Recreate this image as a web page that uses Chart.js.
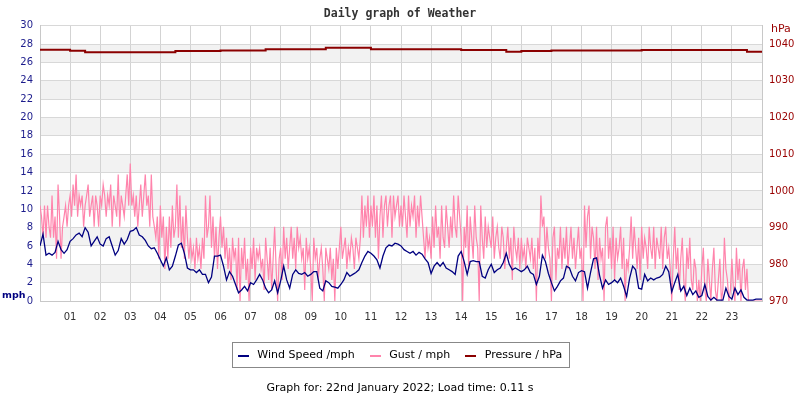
<!DOCTYPE html>
<html><head><meta charset="utf-8">
<script src="https://cdn.jsdelivr.net/npm/chart.js@4.4.1/dist/chart.umd.min.js"></script>
<style>html,body{margin:0;padding:0;background:#fff}</style>
</head><body>
<canvas id="c" width="800" height="400"></canvas>
<script>
const chartTitle = 'Daily graph of Weather';
const footerText = 'Graph for: 22nd January 2022; Load time: 0.11 s';
const leftUnit = 'mph';
const rightUnit = 'hPa';
const seriesNames = ['Wind Speed /mph', 'Gust / mph', 'Pressure / hPa'];
const hourLabels = ['01','02','03','04','05','06','07','08','09','10','11','12','13','14','15','16','17','18','19','20','21','22','23'];
const mphTicks = [0,2,4,6,8,10,12,14,16,18,20,22,24,26,28,30];
const hpaTicks = [970,980,990,1000,1010,1020,1030,1040];
const WIND_STEP_H = 0.1;      // wind speed every 6 minutes
const GUST_STEP_H = 0.05;     // gust every 3 minutes
const PRESSURE_STEP_H = 0.5;  // pressure every 30 minutes

// wind speed (mph), one row per hour 00..23, plus final value at 24:00
const windSpeed = [
 6.0,7.3,5.0,5.2,5.0,5.3,6.5,5.6,5.2,5.6,
 6.5,6.8,7.2,7.4,7.0,8.0,7.5,6.0,6.5,7.0,
 6.2,6.0,6.8,7.0,6.0,5.0,5.5,6.8,6.2,6.7,
 7.6,7.7,8.0,7.2,7.0,6.6,6.0,5.7,5.8,5.2,
 4.5,3.8,4.7,3.4,3.8,4.9,6.1,6.3,5.2,3.6,
 3.4,3.4,3.1,3.4,2.9,2.9,2.0,2.6,4.9,4.9,
 5.0,3.8,2.3,3.2,2.7,1.8,0.9,1.2,1.6,1.1,
 2.0,1.8,2.3,2.9,2.3,1.4,0.9,1.2,2.2,0.9,
 2.2,3.8,2.3,1.4,2.9,3.4,3.0,2.9,3.1,2.7,
 2.9,3.2,3.2,1.4,1.1,2.2,2.0,1.6,1.5,1.4,
 1.8,2.3,3.1,2.7,2.9,3.1,3.4,4.2,4.9,5.4,
 5.2,4.9,4.5,3.6,4.9,5.8,6.1,6.0,6.3,6.2,
 6.0,5.6,5.4,5.2,5.4,5.0,5.3,5.1,4.6,4.2,
 3.0,3.8,4.2,3.8,4.2,3.6,3.4,3.2,2.9,4.9,
 5.4,4.3,2.9,4.3,4.4,4.3,4.3,2.7,2.5,3.4,
 4.0,3.1,3.4,3.6,4.2,5.2,4.0,3.4,3.6,3.4,
 3.2,3.4,3.8,3.1,2.9,1.8,2.7,5.0,4.3,3.0,
 2.0,1.1,1.6,2.2,2.5,3.8,3.6,2.7,2.2,3.1,
 3.3,3.2,1.4,3.1,4.6,4.7,2.8,1.4,2.3,1.8,
 2.0,2.3,2.0,2.5,1.6,0.5,2.5,3.8,3.4,1.4,
 1.3,2.9,2.2,2.5,2.3,2.5,2.6,2.9,3.8,3.2,
 1.0,2.0,2.9,1.1,1.6,0.6,1.4,0.7,1.1,0.4,
 0.6,1.8,0.5,0.1,0.4,0.1,0.1,0.1,1.4,0.5,
 0.2,1.4,0.7,1.2,0.4,0.1,0.1,0.1,0.2,0.2,
 0.2
];

// gust (mph), one row per hour 00..23 (20 readings each), plus 24:00
const gust = [
 10.4,9.2,6.9,10.4,6.9,10.4,8.1,6.9,11.5,6.9,9.2,4.6,12.7,9.2,4.6,8.1,9.2,10.4,8.1,10.4,
 11.5,9.2,12.7,10.4,13.8,9.2,11.5,10.4,11.5,8.1,10.4,11.5,12.7,9.2,10.4,11.5,8.1,11.5,10.4,8.1,
 11.5,10.4,12.7,11.5,9.2,11.5,10.4,12.7,8.1,11.5,10.4,9.2,13.8,8.1,11.5,10.4,9.2,11.5,13.8,10.4,
 15.0,10.4,11.5,9.2,11.5,8.1,10.4,12.7,9.2,11.5,13.8,10.4,11.5,8.1,13.8,9.2,8.1,6.9,9.2,4.6,
 10.4,6.9,9.2,3.5,8.1,4.6,9.2,5.8,10.4,6.9,8.1,12.7,6.9,11.5,5.8,9.2,4.6,10.4,6.9,4.6,
 6.9,4.6,5.8,3.5,6.9,4.6,5.8,3.5,6.9,4.6,11.5,6.9,8.1,11.5,5.8,9.2,4.6,8.1,3.5,6.9,
 9.2,5.8,8.1,4.6,6.9,3.5,5.8,2.3,6.9,4.6,5.8,1.2,6.9,0,5.8,3.5,6.9,2.3,4.6,0,
 5.8,3.5,6.9,2.3,5.8,4.6,5.8,3.5,4.6,1.2,6.9,4.6,2.3,5.8,1.2,4.6,8.1,3.5,0,4.6,
 5.8,2.3,8.1,4.6,6.9,3.5,5.8,8.1,4.6,6.9,3.5,8.1,5.8,6.9,4.6,5.8,1.2,6.9,4.6,5.8,
 3.5,0,6.9,4.6,5.8,2.3,4.6,5.8,3.5,0,5.8,4.6,3.5,5.8,2.3,4.6,0,5.8,3.5,5.8,
 8.1,4.6,5.8,6.9,3.5,5.8,4.6,6.9,5.8,3.5,6.9,5.8,4.6,6.9,11.5,6.9,10.4,8.1,11.5,6.9,
 10.4,8.1,11.5,6.9,10.4,4.6,9.2,11.5,6.9,10.4,11.5,8.1,10.4,11.5,6.9,11.5,9.2,10.4,11.5,8.1,
 10.4,8.1,11.5,9.2,6.9,11.5,8.1,10.4,9.2,11.5,6.9,10.4,8.1,11.5,9.2,6.9,4.6,8.1,5.8,6.9,
 4.6,9.2,5.8,10.4,6.9,8.1,4.6,10.4,6.9,5.8,10.4,8.1,5.8,9.2,6.9,11.5,8.1,6.9,11.5,9.2,
 6.9,0,8.1,5.8,10.4,3.5,9.2,6.9,4.6,10.4,6.9,5.8,0,10.4,6.9,4.6,9.2,5.8,8.1,6.9,
 5.8,9.2,4.6,6.9,8.1,5.8,4.6,8.1,6.9,3.5,5.8,8.1,4.6,6.9,2.3,8.1,5.8,4.6,6.9,3.5,
 6.9,4.6,5.8,3.5,6.9,5.8,4.6,6.9,3.5,5.8,0,6.9,4.6,11.5,8.1,9.2,4.6,8.1,5.8,4.6,
 0,6.9,8.1,2.3,5.8,4.6,8.1,3.5,6.9,4.6,8.1,3.5,5.8,8.1,4.6,6.9,3.5,5.8,8.1,4.6,
 5.8,0,10.4,5.8,9.2,10.4,4.6,8.1,6.9,3.5,8.1,2.3,6.9,4.6,5.8,0,8.1,9.2,4.6,6.9,
 3.5,8.1,2.3,6.9,4.6,5.8,8.1,3.5,6.9,0,4.6,3.5,5.8,9.2,4.6,8.1,5.8,3.5,6.9,2.3,
 8.1,4.6,6.9,5.8,3.5,8.1,5.8,4.6,8.1,3.5,6.9,5.8,4.6,8.1,3.5,6.9,8.1,4.6,5.8,3.5,
 0,4.6,8.1,3.5,5.8,1.2,4.6,6.9,2.3,0,5.8,3.5,6.9,2.3,1.2,4.6,3.5,0,2.3,0,
 3.5,5.8,1.2,0,4.6,2.3,0,3.5,5.8,1.2,0,2.3,4.6,0,1.2,6.9,3.5,2.3,0,1.2,
 4.6,1.2,0,5.8,2.3,4.6,0,3.5,4.6,1.2,3.5,0,0,0,0,0,0,0,0,0,
 0
];

// pressure (hPa), every half hour 00:00 .. 24:00
const pressure = [
 1038.5,1038.5,1038.2,1037.8,1037.8,1037.8,1037.8,1037.8,
 1037.8,1038.1,1038.1,1038.1,1038.3,1038.3,1038.3,1038.6,
 1038.6,1038.6,1038.6,1039.0,1039.0,1039.0,1038.6,1038.6,
 1038.6,1038.6,1038.6,1038.6,1038.4,1038.4,1038.4,1037.9,
 1038.1,1038.1,1038.3,1038.3,1038.3,1038.3,1038.3,1038.3,
 1038.4,1038.4,1038.4,1038.4,1038.4,1038.4,1038.4,1037.9,
 1037.9
];

const colors = { wind:'#000080', gust:'#ff84ac', pressure:'#8b0000' };

const toXY = (arr, step) => arr.map((v, i) => ({ x: i * step, y: v }));

const decorPlugin = {
  id: 'decor',
  beforeDraw(chart) {
    const { ctx, chartArea: a, scales } = chart;
    ctx.save();
    ctx.fillStyle = '#ffffff';
    ctx.fillRect(0, 0, chart.width, chart.height);
    ctx.fillStyle = '#f2f2f2';
    const y = scales.y;
    for (let i = 1; i < mphTicks.length - 1; i += 2) {
      const yTop = y.getPixelForValue(mphTicks[i + 1]);
      const yBot = y.getPixelForValue(mphTicks[i]);
      ctx.fillRect(a.left, yTop, a.right - a.left, yBot - yTop);
    }
    ctx.restore();
  },
  afterDraw(chart) {
    const { ctx, chartArea: a } = chart;
    ctx.save();
    ctx.textBaseline = 'middle';
    ctx.font = 'bold 9.5px "DejaVu Sans"';
    ctx.fillStyle = '#000080';
    ctx.textAlign = 'left';
    ctx.fillText(leftUnit, 2, a.bottom - 5);
    ctx.font = '11px "DejaVu Sans"';
    ctx.fillStyle = '#990000';
    ctx.fillText(rightUnit, a.right + 9, 29);
    const lg = chart.legend;
    if (lg && lg.legendHitBoxes && lg.legendHitBoxes.length) {
      const hb = lg.legendHitBoxes;
      const dsColors = chart.data.datasets.map(d => d.borderColor);
      let minL = Infinity, maxR = -Infinity, cy = 0;
      hb.forEach((b, i) => {
        const c = b.top + b.height / 2;
        cy = c;
        ctx.fillStyle = dsColors[i];
        ctx.fillRect(Math.round(b.left), Math.round(c) - 1, 11, 2);
        minL = Math.min(minL, b.left);
        maxR = Math.max(maxR, b.left + b.width);
      });
      ctx.strokeStyle = '#888888';
      ctx.lineWidth = 1;
      ctx.strokeRect(Math.round(minL - 6) + 0.5, Math.round(cy - 14) + 0.5, Math.round(maxR - minL + 13), 25);
    }
    ctx.font = '11px "DejaVu Sans"';
    ctx.fillStyle = '#000000';
    ctx.textAlign = 'center';
    ctx.fillText(footerText, 400, 388);
    ctx.restore();
  }
};

new Chart(document.getElementById('c'), {
  type: 'line',
  data: {
    datasets: [
      { label: seriesNames[0], data: toXY(windSpeed, WIND_STEP_H), borderColor: colors.wind, backgroundColor: colors.wind,
        borderWidth: 1.3, pointRadius: 0, tension: 0, yAxisID: 'y' },
      { label: seriesNames[1], data: toXY(gust, GUST_STEP_H), borderColor: colors.gust, backgroundColor: colors.gust,
        borderWidth: 1.2, pointRadius: 0, tension: 0, yAxisID: 'y' },
      { label: seriesNames[2], data: toXY(pressure, PRESSURE_STEP_H), borderColor: colors.pressure, backgroundColor: colors.pressure,
        borderWidth: 2, pointRadius: 0, stepped: true, yAxisID: 'y1' }
    ]
  },
  options: {
    responsive: false, animation: false, devicePixelRatio: 1,
    layout: { padding: { left: 0, right: 0, top: 0, bottom: 29 } },
    plugins: {
      title: { display: true, text: chartTitle, color: '#333333',
        font: { family: '"DejaVu Sans Mono"', size: 11.5, weight: 'bold' }, padding: { top: 7, bottom: 5 } },
      legend: { position: 'bottom',
        labels: { boxWidth: 14, boxHeight: 2, padding: 15, color: '#000000',
          font: { family: '"DejaVu Sans"', size: 11 },
          generateLabels: (chart) => chart.data.datasets.map((d, i) => ({
            text: d.label, fillStyle: 'rgba(0,0,0,0)', strokeStyle: 'rgba(0,0,0,0)', lineWidth: 0,
            datasetIndex: i, hidden: false, fontColor: '#000000' })) } },
      tooltip: { enabled: false }
    },
    scales: {
      x: { type: 'linear', min: 0, max: 24, position: 'bottom',
        afterBuildTicks: (s) => { s.ticks = [{ value: 0 }, ...hourLabels.map((l, i) => ({ value: i + 1 })), { value: 24 }]; },
        afterFit: (s) => { s.height = 34; },
        ticks: { autoSkip: false, maxRotation: 0, padding: 10, color: '#333333',
          font: { family: '"DejaVu Sans"', size: 10 },
          callback: (v) => hourLabels[v - 1] || '' },
        grid: { color: '#d3d3d3', drawTicks: false, lineWidth: 1 },
        border: { color: '#c8c8c8' } },
      y: { type: 'linear', position: 'left', min: 0, max: 30,
        afterBuildTicks: (s) => { s.ticks = mphTicks.map(v => ({ value: v })); },
        afterFit: (s) => { s.width = 40; },
        ticks: { padding: 7, color: '#1c1c8c', font: { family: '"DejaVu Sans"', size: 10 }, callback: (v) => String(v) },
        grid: { color: '#d8d8d8', drawTicks: false },
        border: { color: '#c8c8c8' } },
      y1: { type: 'linear', position: 'right', min: 970, max: 1045,
        afterBuildTicks: (s) => { s.ticks = hpaTicks.map(v => ({ value: v })); },
        afterFit: (s) => { s.width = 38; },
        ticks: { padding: 7, color: '#990000', font: { family: '"DejaVu Sans"', size: 10 }, callback: (v) => String(v) },
        grid: { display: false, drawTicks: false },
        border: { color: '#c8c8c8' } }
    }
  },
  plugins: [decorPlugin]
});
</script>
</body></html>
